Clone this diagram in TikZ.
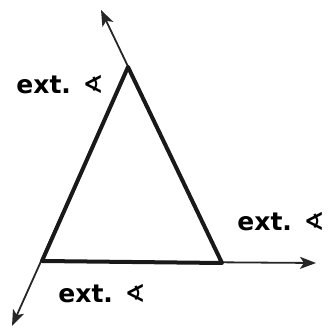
\documentclass[tikz,border=0pt]{standalone}
\usepackage{fontspec}
\setmainfont{DejaVu Sans}
\usepackage{tikz}
\usetikzlibrary{arrows.meta,positioning}

\begin{document}
\begin{tikzpicture}[x=1pt,y=-1pt, every node/.style={font=\fontsize{25}{30}\selectfont\bfseries},
side/.style={line width=4pt,line cap=round,line join=round,draw=black!90},
ext/.style={-{Stealth[length=16pt,width=12pt,inset=4pt]},line width=1.8pt,draw=black!85}]
\useasboundingbox (0,0) rectangle (330,329);
\coordinate (apex) at (128,67);
\coordinate (bl) at (42,261);
\coordinate (br) at (222,263);
\coordinate (tipup) at (101,10);
\coordinate (tipright) at (316,263);
\coordinate (tipdown) at (12,326);
\draw[ext] (br) -- (tipup);
\draw[ext] (apex) -- (tipdown);
\draw[ext] (bl) -- (tipright);
\draw[side] (apex) -- (bl) -- (br) -- cycle;
\node (lbltop) at (60,85) {ext. ∢};
\node (lblright) at (281,222) {ext. ∢};
\node (lblbottom) at (102,294) {ext. ∢};
\end{tikzpicture}
\end{document}
